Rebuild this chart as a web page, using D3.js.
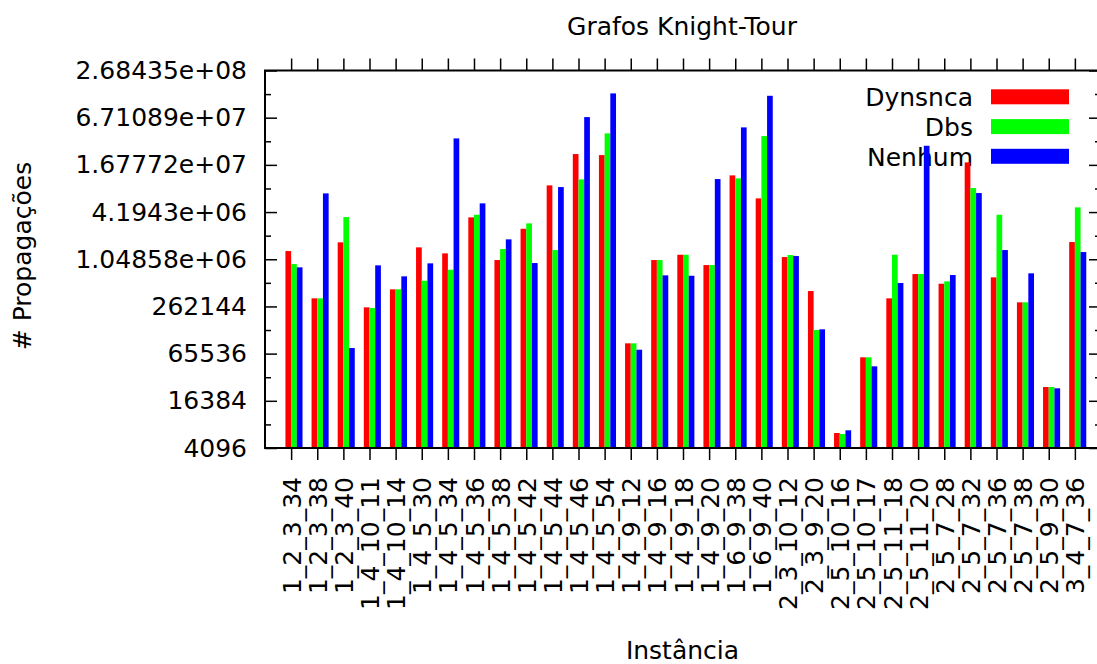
<!DOCTYPE html>
<html>
<head>
<meta charset="utf-8">
<script src="https://cdn.jsdelivr.net/npm/d3@7"></script>
<style>
  body { margin: 0; background: #fff; }
  svg { display: block; font-family: "DejaVu Sans", sans-serif; }
</style>
</head>
<body>
<div id="chart"></div>
<script>
// Instance names (x categories)
var instances = ["1_2_3_34", "1_2_3_38", "1_2_3_40", "1_4_10_11", "1_4_10_14", "1_4_5_30",
    "1_4_5_34", "1_4_5_36", "1_4_5_38", "1_4_5_42", "1_4_5_44", "1_4_5_46", "1_4_5_54",
    "1_4_9_12", "1_4_9_16", "1_4_9_18", "1_4_9_20", "1_6_9_38", "1_6_9_40", "2_3_10_12",
    "2_3_9_20", "2_5_10_16", "2_5_10_17", "2_5_11_18", "2_5_11_20", "2_5_7_28", "2_5_7_32",
    "2_5_7_36", "2_5_7_38", "2_5_9_30", "3_4_7_36"];

// Propagations per instance
var dynsnca = [1334000, 332600, 1723000, 255300, 433400, 1487000, 1247000, 3589000, 1024500,
    2567000, 9190000, 23050000, 22370000, 88700, 1024500, 1197000, 884000, 12320000, 6270000,
    1119000, 412200, 6365, 58800, 332600, 679000, 510700, 18050000, 616100, 295800, 24580, 1738000];
var dbs = [910700, 332600, 3620000, 250100, 433400, 557900, 770300, 3876000, 1415000,
    3009000, 1374000, 10960000, 42300000, 88700, 1024500, 1197000, 884000, 11290000, 39100000,
    1187000, 131072, 6178, 58800, 1197000, 679000, 547900, 8490000, 3876000, 295800, 24580, 4815000];
var nenhum = [826800, 7260000, 77200, 876800, 634400, 929500, 36500000, 5416000, 1881000,
    937900, 8740000, 68300000, 137000000, 73500, 653300, 646000, 11060000, 50470000, 127700000,
    1152000, 133800, 6889, 45130, 521400, 29400000, 659600, 7330000, 1374000, 693300, 23660, 1295000];

var seriesNames = ["Dynsnca", "Dbs", "Nenhum"];
var seriesColors = ["#ff0000", "#00ff00", "#0000ff"];

// y ticks (log base 2, every 2^2)
var yTicks = [4096, 16384, 65536, 262144, 1048576, 4194304, 16777216, 67108864, 268435456];
var yTickLabels = ["4096", "16384", "65536", "262144", "1.04858e+06", "4.1943e+06",
    "1.67772e+07", "6.71089e+07", "2.68435e+08"];
var yMinorTicks = [8192, 32768, 131072, 524288, 2097152, 8388608, 33554432, 134217728];

function drawChart() {
    var W = 1097, H = 664;
    // plot box (right edge sits just past the picture, as in the original)
    var pLeft = 265, pRight = 1101, pTop = 70.5, pBottom = 448;

    var svg = d3.select("#chart").append("svg")
        .attr("width", W)
        .attr("height", H);

    var x = d3.scalePoint()
        .domain(instances)
        .range([pLeft, pRight])
        .padding(1);

    var bw = x.step() * 0.218;
    var xSeries = d3.scaleBand()
        .domain(seriesNames)
        .range([-bw, 2 * bw]);

    var y = d3.scaleLog()
        .base(2)
        .domain([4096, 268435456])
        .range([pBottom, pTop]);

    // Legend text first (bars draw over it, like the original)
    var legendRows = [96.8, 126.6, 156.3];
    var legendG = svg.append("g").style("font-size", "25px");
    seriesNames.forEach(function (name, i) {
        legendG.append("text")
            .attr("x", 973)
            .attr("y", legendRows[i])
            .attr("dy", "0.37em")
            .attr("text-anchor", "end")
            .attr("fill", "#000")
            .text(name);
    });

    // Bars
    var allSeries = [dynsnca, dbs, nenhum];
    var barsG = svg.append("g");
    allSeries.forEach(function (vals, s) {
        barsG.selectAll(null)
            .data(vals)
            .enter()
            .append("rect")
            .attr("x", function (d, i) { return x(instances[i]) + xSeries(seriesNames[s]); })
            .attr("width", xSeries.bandwidth())
            .attr("y", function (d) { return y(d); })
            .attr("height", function (d) { return y(4096) - y(d); })
            .attr("fill", seriesColors[s]);
    });

    // Legend swatches
    seriesNames.forEach(function (name, i) {
        legendG.append("rect")
            .attr("x", 991)
            .attr("y", legendRows[i] - 7.5)
            .attr("width", 78)
            .attr("height", 15)
            .attr("fill", seriesColors[i]);
    });

    var axisG = svg.append("g");

    function plainTicks(g) {
        g.select(".domain").remove();
        g.selectAll("line").attr("stroke-width", 1.5);
    }

    // left: major ticks inward with labels
    axisG.append("g")
        .attr("transform", "translate(" + pLeft + ",0)")
        .call(d3.axisLeft(y)
            .tickValues(yTicks)
            .tickFormat(function (d, i) { return yTickLabels[i]; })
            .tickSizeInner(-12)
            .tickSizeOuter(0)
            .tickPadding(18))
        .call(plainTicks)
        .call(function (g) {
            g.selectAll("text").style("font-size", "25px").style("font-family", "DejaVu Sans").attr("fill", "#000");
        });
    axisG.append("g")
        .attr("transform", "translate(" + pLeft + ",0)")
        .call(d3.axisLeft(y).tickValues(yMinorTicks).tickFormat("").tickSizeInner(-6).tickSizeOuter(0))
        .call(plainTicks);

    // right mirror ticks
    axisG.append("g")
        .attr("transform", "translate(" + pRight + ",0)")
        .call(d3.axisRight(y).tickValues(yTicks).tickFormat("").tickSizeInner(-12).tickSizeOuter(0))
        .call(plainTicks);
    axisG.append("g")
        .attr("transform", "translate(" + pRight + ",0)")
        .call(d3.axisRight(y).tickValues(yMinorTicks).tickFormat("").tickSizeInner(-6).tickSizeOuter(0))
        .call(plainTicks);

    // bottom: ticks outward, rotated labels
    var xAxisG = axisG.append("g")
        .attr("transform", "translate(0," + pBottom + ")")
        .call(d3.axisBottom(x).tickSizeInner(12).tickSizeOuter(0).tickPadding(0))
        .call(plainTicks);
    xAxisG.selectAll("text")
        .attr("y", 0)
        .attr("dy", "0.36em")
        .attr("transform", "translate(0,29) rotate(-90)")
        .attr("text-anchor", "end")
        .attr("fill", "#000")
        .style("font-size", "25px")
        .style("font-family", "DejaVu Sans");

    // top mirror ticks, outward
    axisG.append("g")
        .attr("transform", "translate(0," + pTop + ")")
        .call(d3.axisTop(x).tickFormat("").tickSizeInner(12).tickSizeOuter(0))
        .call(plainTicks);

    // border
    svg.append("rect")
        .attr("x", pLeft)
        .attr("y", pTop)
        .attr("width", pRight - pLeft)
        .attr("height", pBottom - pTop)
        .attr("fill", "none")
        .attr("stroke", "#000")
        .attr("stroke-width", 2);

    // Titles
    svg.append("text")
        .attr("x", 682)
        .attr("y", 34.5)
        .attr("text-anchor", "middle")
        .style("font-size", "25px")
        .text("Grafos Knight-Tour");

    svg.append("text")
        .attr("x", 682.5)
        .attr("y", 659)
        .attr("text-anchor", "middle")
        .style("font-size", "25px")
        .text("Instância");

    svg.append("text")
        .attr("transform", "translate(30.5,256) rotate(-90)")
        .attr("text-anchor", "middle")
        .style("font-size", "25px")
        .text("# Propagações");
}

drawChart();
</script>
</body>
</html>
